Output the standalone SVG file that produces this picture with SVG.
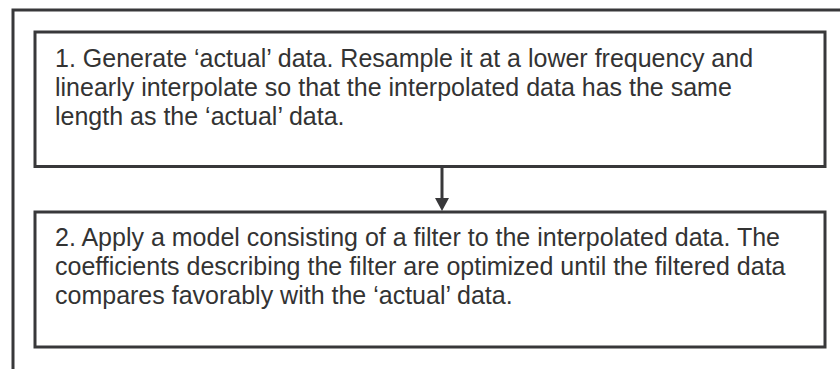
<svg xmlns="http://www.w3.org/2000/svg" width="840" height="369" viewBox="0 0 840 369">
<style>
.frame{fill:none;stroke:#38383a;stroke-width:3}
.box{fill:#ffffff;stroke:#38383a;stroke-width:3}
.txt{font-family:"Liberation Sans",Arial,sans-serif;font-size:25px;fill:#333333}
.conn{stroke:#38383a;stroke-width:3;fill:none}
.head{fill:#38383a}
</style>
<rect width="840" height="369" fill="#ffffff"/>
<path class="frame" d="M13,369 V10 H840"/>
<g id="node1">
<rect class="box" x="35" y="32" width="790" height="134.5"/>
<text class="txt" x="55" y="67">1. Generate ‘actual’ data. Resample it at a lower frequency and</text>
<text class="txt" x="55" y="96">linearly interpolate so that the interpolated data has the same</text>
<text class="txt" x="55" y="125">length as the ‘actual’ data.</text>
</g>
<g id="node2">
<rect class="box" x="35" y="212" width="790" height="135"/>
<text class="txt" x="55" y="246">2. Apply a model consisting of a filter to the interpolated data. The</text>
<text class="txt" x="55" y="275">coefficients describing the filter are optimized until the filtered data</text>
<text class="txt" x="55" y="304">compares favorably with the ‘actual’ data.</text>
</g>
<g id="connectors">
<line class="conn" x1="442" y1="168" x2="442" y2="199"/>
<polygon class="head" points="435,198 449,198 442,211"/>
</g>
</svg>
